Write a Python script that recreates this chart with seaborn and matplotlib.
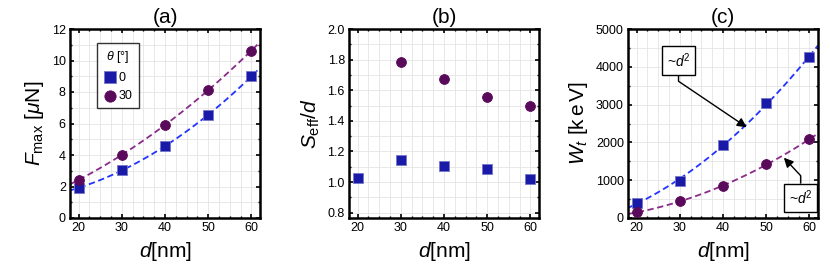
import numpy as np
import pandas as pd
import matplotlib
matplotlib.use("Agg")
import matplotlib.pyplot as plt
from matplotlib.ticker import MultipleLocator, FormatStrFormatter
import seaborn as sns

# data
d_nm = [20, 30, 40, 50, 60]
fmax_0 = [1.90, 3.06, 4.54, 6.55, 9.00]
fmax_30 = [2.43, 3.99, 5.91, 8.13, 10.62]
seff_d = [20, 30, 40, 50, 60]
seff_0 = [1.028, 1.145, 1.104, 1.082, 1.023]
seff_d30 = [30, 40, 50, 60]
seff_30 = [1.787, 1.672, 1.558, 1.497]
wt_0 = [400, 990, 1920, 3040, 4260]
wt_30 = [150, 440, 850, 1420, 2080]

blue_pt = "#1a1aa8"
purple_pt = "#5a0a5a"
blue_ln = "#2233ff"
purple_ln = "#8a2a8a"

sns.set_style("ticks")
plt.rcParams["font.family"] = ["Liberation Sans", "DejaVu Sans"]
plt.rcParams["mathtext.fontset"] = "custom"
plt.rcParams["mathtext.rm"] = "Liberation Sans"
plt.rcParams["mathtext.it"] = "Liberation Sans:italic"
plt.rcParams["mathtext.bf"] = "Liberation Sans:bold"
plt.rcParams["text.color"] = "k"
plt.rcParams["axes.labelcolor"] = "k"
plt.rcParams["xtick.color"] = "k"
plt.rcParams["ytick.color"] = "k"

fig = plt.figure(figsize=(8.3, 2.74), dpi=100)
W, H = 830, 274
boxes = [70, 349, 628]
axes = [fig.add_axes([x / W, (H - 218) / H, 190 / W, 189 / H]) for x in boxes]


def style(ax, ymajor, yminor):
    ax.set_xlim(18, 62)
    ax.xaxis.set_major_locator(MultipleLocator(10))
    ax.xaxis.set_minor_locator(MultipleLocator(2.5))
    ax.yaxis.set_major_locator(MultipleLocator(ymajor))
    ax.yaxis.set_minor_locator(MultipleLocator(yminor))
    ax.grid(which="both", color="#e4e4e4", lw=0.6)
    ax.set_axisbelow(True)
    ax.tick_params(which="both", direction="in", top=True, right=True,
                   labelsize=9, color="k", labelcolor="k", pad=3)
    ax.tick_params(which="major", length=3, width=1.2)
    ax.tick_params(which="minor", length=1.5, width=1)
    for s in ax.spines.values():
        s.set_linewidth(1.8)
        s.set_color("k")
    ax.set_xlabel(r"$d$[nm]", fontsize=15, labelpad=4)


def fit(ax, x, y, color):
    sns.regplot(x=x, y=y, order=2, ci=None, scatter=False, truncate=False, ax=ax,
                line_kws=dict(color=color, ls=(0, (3.5, 2)), lw=1.3))


def points(ax, x, y, color, marker, label=None):
    sns.scatterplot(x=x, y=y, ax=ax, color=color, marker=marker, s=50,
                    edgecolor="#7777cc" if marker == "s" else color,
                    linewidth=0.6, label=label, zorder=3)


# (a)
ax = axes[0]
ax.set_xlim(18, 62)
fit(ax, d_nm, fmax_30, purple_ln)
fit(ax, d_nm, fmax_0, blue_ln)
points(ax, d_nm, fmax_0, blue_pt, "s", "0")
points(ax, d_nm, fmax_30, purple_pt, "o", "30")
style(ax, 2, 1)
ax.set_ylim(0, 12)
ax.set_ylabel(r"$F_{\mathrm{max}}$ [$\mu$N]", fontsize=15, labelpad=4)
leg = ax.legend(title=r"$\theta$ [°]", loc="upper left", bbox_to_anchor=(0.144, 0.925),
                borderaxespad=0, fontsize=9, title_fontsize=9, frameon=True,
                fancybox=False, edgecolor="k", handletextpad=0.2, handlelength=1.0,
                borderpad=0.5, labelspacing=0.5, markerscale=1.15)
leg.get_frame().set_linewidth(1.0)
ax.set_title("(a)", fontsize=15, pad=4)

# (b)
ax = axes[1]
points(ax, seff_d, seff_0, blue_pt, "s")
points(ax, seff_d30, seff_30, purple_pt, "o")
style(ax, 0.2, 0.1)
ax.set_ylim(0.765, 2.0)
ax.yaxis.set_major_formatter(FormatStrFormatter("%.1f"))
ax.set_ylabel(r"$S_{\mathrm{eff}}/d$", fontsize=15, labelpad=4)
ax.set_title("(b)", fontsize=15, pad=4)

# (c)
ax = axes[2]
ax.set_xlim(18, 62)
fit(ax, d_nm, wt_0, blue_ln)
fit(ax, d_nm, wt_30, purple_ln)
points(ax, d_nm, wt_0, blue_pt, "s")
points(ax, d_nm, wt_30, purple_pt, "o")
style(ax, 1000, 500)
ax.set_ylim(0, 5000)
ax.set_ylabel(r"$W_t$ [k$\,$e$\,$V]", fontsize=15, labelpad=4)
ax.set_title("(c)", fontsize=15, pad=4)

box = dict(boxstyle="square,pad=0.35", fc="white", ec="k", lw=1)
ax.annotate(r"~$d^2$", xy=(45.5, 2400), xytext=(29.7, 4170), fontsize=10,
            ha="center", va="center", bbox=box,
            arrowprops=dict(arrowstyle="-|>", color="k", lw=1, mutation_scale=14,
                            connectionstyle="angle,angleA=90,angleB=-34,rad=0",
                            shrinkA=0, shrinkB=0))
ax.annotate(r"~$d^2$", xy=(54.1, 1595), xytext=(58.0, 534), fontsize=10,
            ha="center", va="center", bbox=box,
            arrowprops=dict(arrowstyle="-|>", color="k", lw=1, mutation_scale=14,
                            connectionstyle="angle,angleA=90,angleB=133,rad=0",
                            shrinkA=0, shrinkB=0))

fig.savefig("out.png", dpi=100)
